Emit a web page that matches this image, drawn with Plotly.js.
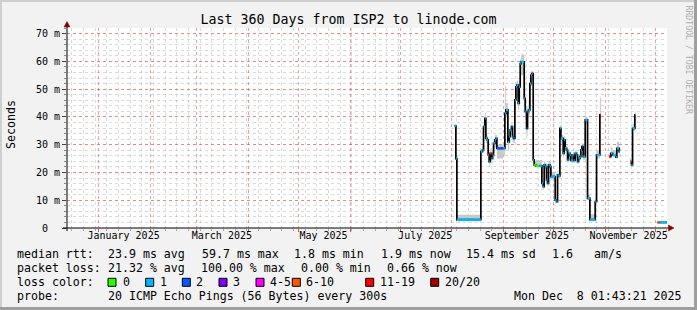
<!DOCTYPE html>
<html>
<head>
<meta charset="utf-8">
<script src="https://cdn.plot.ly/plotly-3.0.1.min.js"></script>
<style>
  html, body { margin: 0; padding: 0; background: #f2f2f2; }
  #chart { width: 697px; height: 310px; }
</style>
</head>
<body>
<div id="chart"></div>
<script>
// ---------------- DATA ----------------
// step start times of the consolidated median RTT (null rows = no data)
const times = [
  '2025-08-02 14:24','2025-08-03 09:36','2025-08-04 00:00','2025-08-18 09:36','2025-08-19 09:36',
  '2025-08-20 00:00','2025-08-20 19:12','2025-08-21 09:36','2025-08-22 04:48','2025-08-22 19:12',
  '2025-08-23 09:36','2025-08-24 00:00','2025-08-24 19:12','2025-08-25 09:36','2025-08-26 00:00',
  '2025-08-26 19:12','2025-08-27 09:36','2025-08-28 00:00','2025-08-31 19:12','2025-09-01 19:12',
  '2025-09-02 09:36','2025-09-03 14:24','2025-09-04 09:36','2025-09-05 00:00','2025-09-05 19:12',
  '2025-09-06 09:36','2025-09-07 00:00','2025-09-07 19:12','2025-09-08 09:36','2025-09-09 00:00',
  '2025-09-09 19:12','2025-09-10 09:36','2025-09-11 00:00','2025-09-11 14:24','2025-09-13 09:36',
  '2025-09-14 00:00','2025-09-14 19:12','2025-09-15 09:36','2025-09-16 00:00','2025-09-16 19:12',
  '2025-09-17 09:36','2025-09-18 00:00','2025-09-18 19:12','2025-09-19 09:36','2025-09-20 09:36',
  '2025-09-22 09:36','2025-09-24 00:00','2025-09-24 19:12','2025-09-25 09:36','2025-09-26 00:00',
  '2025-09-26 19:12','2025-09-27 09:36','2025-09-28 00:00','2025-09-28 19:12','2025-09-29 09:36',
  '2025-10-02 00:00','2025-10-02 19:12','2025-10-03 09:36','2025-10-04 00:00','2025-10-04 19:12',
  '2025-10-05 09:36','2025-10-06 19:12','2025-10-07 09:36','2025-10-08 00:00','2025-10-08 19:12',
  '2025-10-09 09:36','2025-10-10 00:00','2025-10-10 19:12','2025-10-11 09:36','2025-10-12 19:12',
  '2025-10-13 09:36','2025-10-14 00:00','2025-10-14 19:12','2025-10-15 09:36','2025-10-16 00:00',
  '2025-10-16 19:12','2025-10-17 09:36','2025-10-18 00:00','2025-10-18 19:12','2025-10-20 00:00',
  '2025-10-21 09:36','2025-10-22 19:12','2025-10-26 00:00','2025-10-26 19:12','2025-10-28 19:12',
  '2025-10-29 09:36','2025-10-31 00:00',
  '2025-11-03 09:36','2025-11-04 09:36','2025-11-05 09:36','2025-11-07 09:36','2025-11-08 00:00',
  '2025-11-09 09:36','2025-11-09 19:12','2025-11-12 00:00',
  '2025-11-16 00:00','2025-11-16 19:12','2025-11-17 09:36','2025-11-18 19:12','2025-11-19 04:48',
  '2025-11-25 00:00',
  '2025-12-02 09:36','2025-12-03 14:24','2025-12-08 00:00'
];
// median RTT in ms
const median = [
  36.7,25.0,3.0,27.5,28.0, 36.5,39.5,32.3,31.7,26.3, 23.9,26.9,25.1,26.3,30.5,
  31.7,32.3,28.7,28.7,41.3, 42.5,31.0,32.9,35.3,36.5, 32.9,32.3,46.1,50.8,51.4,
  44.9,50.8,59.2,59.8,46.7, 41.9,35.9,41.9,42.5,52.0, 55.0,55.6,24.5,22.7,22.4,
  22.4,16.1,14.9,22.7,22.1, 17.3,16.1,22.7,22.1,18.5, 10.1,9.5,19.1,18.8,35.9,
  32.3,26.9,31.7,28.7,28.1, 24.5,26.9,26.3,24.3,26.3, 24.3,26.9,26.3,23.9,25.1,
  25.7,28.1,29.3,25.7,38.9, 10.7,3.0,9.5,26.3,40.7, 40.7,null,
  25.7,26.9,26.3,25.5,28.7, 27.5,27.5,null,
  23.9,22.7,35.9,40.7,40.7, null,
  2.0,2.0,2.0
];
// loss class per step: index into lossLabels (null = end of a data run)
const loss = [
  1,1,1,1,1, 1,1,1,1,5, 1,5,1,1,1,
  1,1,2,1,1, 1,1,1,1,1, 1,2,1,1,1,
  1,1,1,1,1, 1,2,1,1,1, 1,4,1,0,0,
  1,1,1,1,1, 1,1,1,1,1, 1,1,1,1,1,
  1,1,1,1,1, 1,1,1,1,1, 1,1,1,1,1,
  1,1,2,1,1, 1,1,1,1,6, null,null,
  6,1,1,1,1, 1,null,null,
  5,1,1,1,null, null,
  5,1,null
];
// smoke (spread of the individual pings) upper and lower bounds, ms
const smokeHi = [
  37.5,26.0,4.8,28.5,29.5, 38.0,41.5,34.0,33.0,28.0, 25.5,28.5,27.0,28.0,32.0,
  33.5,33.5,30.0,30.0,51.0, 45.0,33.0,34.5,37.0,38.0, 34.5,34.0,48.0,52.5,53.0,
  47.0,53.0,61.0,62.5,52.0, 44.0,38.0,44.0,46.0,54.0, 56.5,56.5,26.0,24.0,24.5,
  24.5,17.5,16.0,24.0,23.5, 18.5,17.5,24.0,24.0,20.0, 11.0,10.5,20.5,20.0,37.0,
  33.5,28.0,33.0,30.0,29.5, 26.0,28.0,27.5,25.5,27.5, 25.5,28.0,27.5,25.0,26.5,
  27.0,29.5,30.5,27.0,40.0, 12.0,5.0,11.0,28.0,47.0, null,null,
  27.0,29.0,28.0,27.0,31.0, 29.0,null,null,
  25.0,24.0,37.5,42.0,null, null,
  2.5,2.5,null
];
const smokeLo = [
  36.0,24.5,2.8,27.0,27.5, 35.5,36.5,30.5,29.0,23.5, 22.0,24.0,23.0,24.5,28.5,
  29.0,29.5,25.0,26.0,39.0, 40.0,28.0,31.0,33.5,34.5, 31.0,30.5,43.0,46.0,47.0,
  42.5,47.0,55.0,55.0,44.0, 39.0,33.0,39.5,40.5,49.0, 51.0,53.0,23.5,22.0,21.8,
  21.8,15.0,14.0,21.5,21.0, 16.0,15.0,21.5,21.0,17.5, 9.5,9.0,18.0,18.0,34.5,
  31.0,25.5,30.5,27.5,27.0, 23.5,25.5,25.0,23.5,25.0, 23.5,25.5,25.0,23.0,24.0,
  24.5,27.0,28.0,24.5,37.5, 10.0,2.8,9.0,25.0,39.5, null,null,
  25.0,26.0,25.5,25.0,27.5, 26.5,null,null,
  23.0,22.0,35.0,40.0,null, null,
  1.8,1.8,null
];
const lossLabels = ['0','1','2','3','4-5','6-10','11-19','20/20'];
const lossColors = ['#26ff00','#00b8ff','#0059ff','#7e00ff','#ff00ff','#ff5500','#ff0000','#a10000'];

const yTickVals = [0,10,20,30,40,50,60,70];
const yTickText = ['0\u00a0\u00a0','10 m','20 m','30 m','40 m','50 m','60 m','70 m'];
const xLabelDates = ['2025-01-16','2025-03-16','2025-05-16','2025-07-16','2025-09-15','2025-11-15'];
const xLabelText = ['January 2025','March 2025','May 2025','July 2025','September 2025','November 2025'];

const titleText = 'Last 360 Days from ISP2 to linode.com';
const row1 = ['median rtt:','23.9 ms avg','59.7 ms max','1.8 ms min','1.9 ms now','15.4 ms sd','1.6','am/s'];
const row2 = ['packet loss:','21.32 % avg','100.00 % max','0.00 % min','0.66 % now'];
const row3 = ['loss color:'];
const row4 = ['probe:','20 ICMP Echo Pings (56 Bytes) every 300s','Mon Dec  8 01:43:21 2025'];

// ---------------- LAYOUT HELPERS ----------------
const W = 697, H = 310, ML = 67, MR = 30, MT = 28, MB = 82;
const PW = W - ML - MR, PH = H - MT - MB;
const px = x => (x - ML) / PW;
const py = y => (H - MB - y) / PH;
const mono = 'DejaVu Sans Mono, monospace';
const nb = s => s.replace(/ /g, '\u00a0');
const toMs = s => new Date(s.replace(' ', 'T') + ':00Z').getTime();

// ---------------- TRACES ----------------
const traces = [];

// smoke as bars spanning each step
const bx = [], by = [], bb = [], bw = [];
for (let i = 0; i < times.length - 1; i++) {
  if (smokeHi[i] == null || smokeLo[i] == null) continue;
  bx.push(times[i]);
  bb.push(smokeLo[i]);
  by.push(smokeHi[i] - smokeLo[i]);
  bw.push(toMs(times[i + 1]) - toMs(times[i]));
}
traces.push({
  type: 'bar', x: bx, y: by, base: bb, width: bw, offset: 0,
  marker: { color: '#c8c8c8', line: { width: 0 } },
  hoverinfo: 'skip', showlegend: false
});

// median line (black steps)
traces.push({
  type: 'scatter', mode: 'lines', x: times, y: median,
  line: { color: '#000000', width: 1.7, shape: 'hv' },
  connectgaps: false, hoverinfo: 'skip', showlegend: false
});

// loss-coloured horizontal parts of the median
lossColors.forEach((col, k) => {
  const sx = [], sy = [];
  for (let i = 0; i < times.length - 1; i++) {
    if (loss[i] === k && median[i] != null) {
      sx.push(times[i], times[i + 1], null);
      sy.push(median[i], median[i], null);
    }
  }
  if (sx.length) {
    traces.push({
      type: 'scatter', mode: 'lines', x: sx, y: sy,
      line: { color: col, width: 2.4 }, connectgaps: false,
      hoverinfo: 'skip', showlegend: false
    });
  }
});

// carrier for the month labels axis
traces.push({
  type: 'scatter', mode: 'markers', x: xLabelDates, y: xLabelDates.map(() => null),
  xaxis: 'x2', yaxis: 'y', hoverinfo: 'skip', showlegend: false
});

// ---------------- ANNOTATIONS / SHAPES ----------------
const annotations = [];
const addText = (t, x, y, opts = {}) => annotations.push(Object.assign({
  text: nb(t), x: px(x), y: py(y), xref: 'paper', yref: 'paper',
  xanchor: 'left', yanchor: 'middle', showarrow: false,
  font: { family: mono, size: 11.6, color: '#000' }
}, opts));

const r1x = [16, 107.3, 201, 293.3, 380, 465.7, 551.7, 593.3];
row1.forEach((t, i) => addText(t, r1x[i] - 1.5, 254));
const r2x = [16, 107.3, 200, 300, 386.7];
row2.forEach((t, i) => addText(t, r2x[i] - 1.5, 268.3));
addText(row3[0], 14.5, 282.3);
const boxX = [108, 145.7, 182.3, 219, 256, 292.3, 365.7, 430.7];
const labX = [123.3, 160.7, 196.7, 233.3, 270.7, 306.7, 380, 445];
lossLabels.forEach((t, i) => addText(t, labX[i] - 2.5, 282.3));
const r4x = [16, 107.3, 513.3];
row4.forEach((t, i) => addText(t, r4x[i] - 1.5, 296));

// y axis title
annotations.push({
  text: 'Seconds', x: px(11), y: py(125), xref: 'paper', yref: 'paper',
  xanchor: 'center', yanchor: 'middle', showarrow: false, textangle: -90,
  font: { family: mono, size: 11.6, color: '#000' }
});
// watermark
annotations.push({
  text: nb('RRDTOOL / TOBI OETIKER'), x: px(688.5), y: py(60), xref: 'paper', yref: 'paper',
  xanchor: 'center', yanchor: 'middle', showarrow: false, textangle: 90,
  font: { family: mono, size: 8.2, color: '#b0b0b0' }
});

const shapes = [];
// loss colour boxes
boxX.forEach((bxp, i) => shapes.push({
  type: 'rect', xref: 'paper', yref: 'paper',
  x0: px(bxp), x1: px(bxp + 8), y0: py(286.3), y1: py(278.3),
  fillcolor: lossColors[i], line: { color: '#000', width: 1 }
}));
// axis lines
shapes.push({ type: 'line', xref: 'paper', yref: 'paper', x0: px(67), x1: px(67), y0: py(231), y1: py(25),
  line: { color: '#000', width: 1 } });
shapes.push({ type: 'line', xref: 'paper', yref: 'paper', x0: px(63), x1: px(670), y0: py(228), y1: py(228),
  line: { color: '#000', width: 1 } });
// arrows
shapes.push({ type: 'path', xref: 'paper', yref: 'paper',
  path: `M ${px(67)} ${py(21.5)} L ${px(64)} ${py(27)} L ${px(70)} ${py(27)} Z`,
  fillcolor: '#8b0000', line: { color: '#8b0000', width: 0.5 } });
shapes.push({ type: 'path', xref: 'paper', yref: 'paper',
  path: `M ${px(674)} ${py(228)} L ${px(668.5)} ${py(225)} L ${px(668.5)} ${py(231)} Z`,
  fillcolor: '#8b0000', line: { color: '#8b0000', width: 0.5 } });
// frame shading
const frame = (x0, y0, x1, y1, c) => shapes.push({ type: 'rect', xref: 'paper', yref: 'paper',
  x0: px(x0), x1: px(x1), y0: py(y1), y1: py(y0), fillcolor: c, line: { width: 0 }, layer: 'above' });
frame(0, 0, 697, 2, '#cfcfcf');
frame(0, 0, 2, 310, '#cfcfcf');
frame(0, 307, 697, 310, '#9e9e9e');
frame(694, 0, 697, 310, '#9e9e9e');

// ---------------- LAYOUT ----------------
const layout = {
  width: W, height: H,
  margin: { l: ML, r: MR, t: MT, b: MB, pad: 0 },
  paper_bgcolor: '#f2f2f2', plot_bgcolor: '#ffffff',
  showlegend: false, barmode: 'overlay',
  title: { text: titleText, font: { family: mono, size: 13.3, color: '#000' },
    x: 0.5, xref: 'container', xanchor: 'center', y: 1 - 19 / H, yref: 'container', yanchor: 'middle' },
  xaxis: {
    type: 'date', range: ['2024-12-13 01:43:21', '2025-12-08 01:43:21'],
    tick0: '2025-01-01', dtick: 'M1', showticklabels: false,
    ticks: 'outside', ticklen: 3, tickcolor: '#de5050', tickwidth: 1,
    showgrid: true, gridcolor: 'rgba(222,80,80,0.55)', griddash: 'dot', gridwidth: 1,
    zeroline: false, showline: false, fixedrange: true,
    minor: { tick0: '2024-12-16', dtick: 7 * 86400000, showgrid: true,
      gridcolor: 'rgba(150,150,150,0.35)', griddash: 'dot', gridwidth: 1,
      ticks: 'outside', ticklen: 2, tickcolor: '#aaaaaa' }
  },
  xaxis2: {
    type: 'date', overlaying: 'x', anchor: 'y', side: 'bottom',
    range: ['2024-12-13 01:43:21', '2025-12-08 01:43:21'],
    tickvals: xLabelDates, ticktext: xLabelText, ticks: '',
    showgrid: false, zeroline: false, showline: false,
    tickfont: { family: mono, size: 10, color: '#000' }
  },
  yaxis: {
    range: [0, 72], tickvals: yTickVals, ticktext: yTickText,
    ticks: 'outside', ticklen: 4, tickcolor: '#444', tickwidth: 1,
    showgrid: true, gridcolor: 'rgba(222,80,80,0.55)', griddash: 'dot', gridwidth: 1,
    zeroline: false, showline: false, fixedrange: true,
    tickfont: { family: mono, size: 10, color: '#000' },
    minor: { tick0: 0, dtick: 2, showgrid: true,
      gridcolor: 'rgba(150,150,150,0.35)', griddash: 'dot', gridwidth: 1,
      ticks: 'outside', ticklen: 2, tickcolor: '#888' }
  },
  annotations: annotations,
  shapes: shapes
};

Plotly.newPlot('chart', traces, layout, { staticPlot: true, displayModeBar: false });
</script>
</body>
</html>
